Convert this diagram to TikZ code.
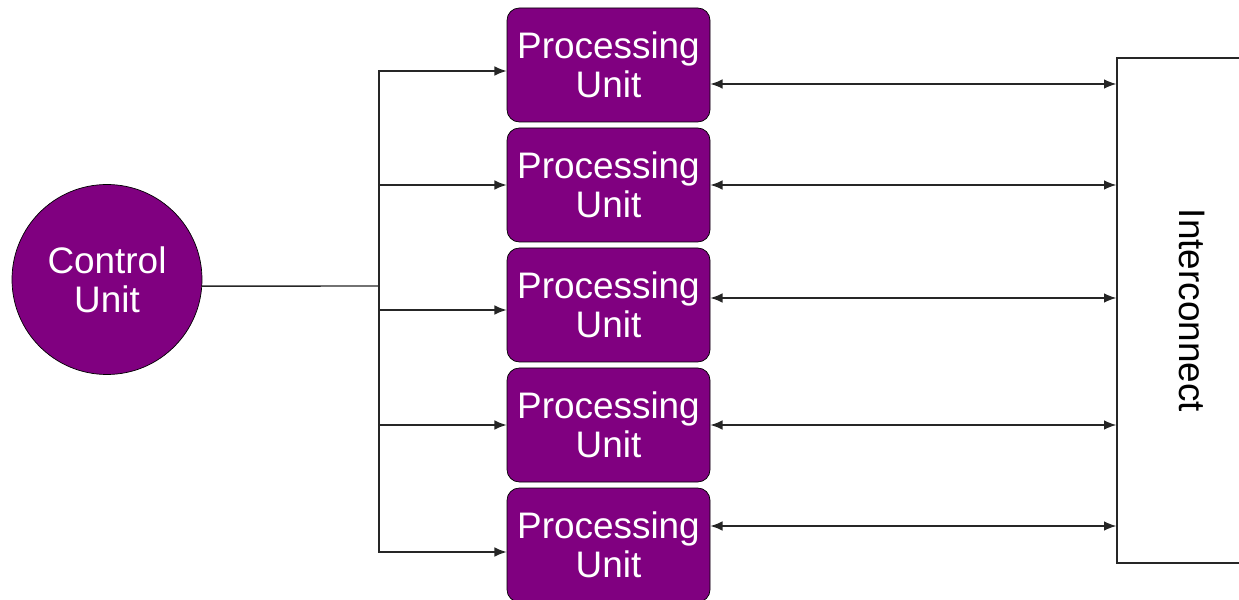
\documentclass[tikz,border=0pt]{standalone}
\usepackage{fontspec}
\setmainfont{Liberation Sans}
\usetikzlibrary{arrows.meta}
\definecolor{unitpurple}{HTML}{800080}
\tikzset{
  unit/.style={draw=black, fill=unitpurple, text=white, align=center,
    font=\fontsize{21}{22}\selectfont},
  pu/.style={unit, rounded corners=7pt, minimum width=4.06cm,
    minimum height=2.28cm, inner sep=0pt},
  cu/.style={unit, circle, minimum size=3.8cm, inner sep=0pt},
  link/.style={draw=black!85, line width=0.8pt},
}

\begin{document}
\begin{tikzpicture}[>={Latex[length=7pt,width=5.5pt]}]
          \useasboundingbox (0,0) rectangle (24.78,11.98);
          \clip (0,0) rectangle (24.78,11.98);

          \node[cu] (cu) at (2.14,6.39) {Control\\Unit};
          \node[pu] (pua) at (12.17,10.68) {Processing\\Unit};
          \node[pu] (pub) at (12.17,8.28) {Processing\\Unit};
          \node[pu] (puc) at (12.17,5.88) {Processing\\Unit};
          \node[pu] (pud) at (12.17,3.48) {Processing\\Unit};
          \node[pu] (pue) at (12.17,1.08) {Processing\\Unit};
          \node[draw=black!85, line width=0.8pt, fill=white, rotate=-90,
            minimum width=10.1cm, minimum height=3cm,
            font=\fontsize{21}{22}\selectfont] (ic) at (23.84,5.77) {Interconnect};

          \coordinate (bus) at (7.58,6.26);
          \draw[link] (cu.-4) -- (bus);
          \draw[link,->] (bus) |- ([yshift=-0.12cm]pua.west);
          \draw[link,->] (bus) |- (pub.west);
          \draw[link,->] (bus) |- ([yshift=-0.10cm]puc.west);
          \draw[link,->] (bus) |- (pud.west);
          \draw[link,->] (bus) |- ([yshift=-0.14cm]pue.west);

          \draw[link,<->] ([yshift=-0.38cm]pua.east) -- ([yshift=-0.38cm]pua.east -| ic.south);
          \draw[link,<->] (pub.east) -- (pub.east -| ic.south);
          \draw[link,<->] ([yshift=0.14cm]puc.east) -- ([yshift=0.14cm]puc.east -| ic.south);
          \draw[link,<->] (pud.east) -- (pud.east -| ic.south);
          \draw[link,<->] ([yshift=0.38cm]pue.east) -- ([yshift=0.38cm]pue.east -| ic.south);
        \end{tikzpicture}
\end{document}
